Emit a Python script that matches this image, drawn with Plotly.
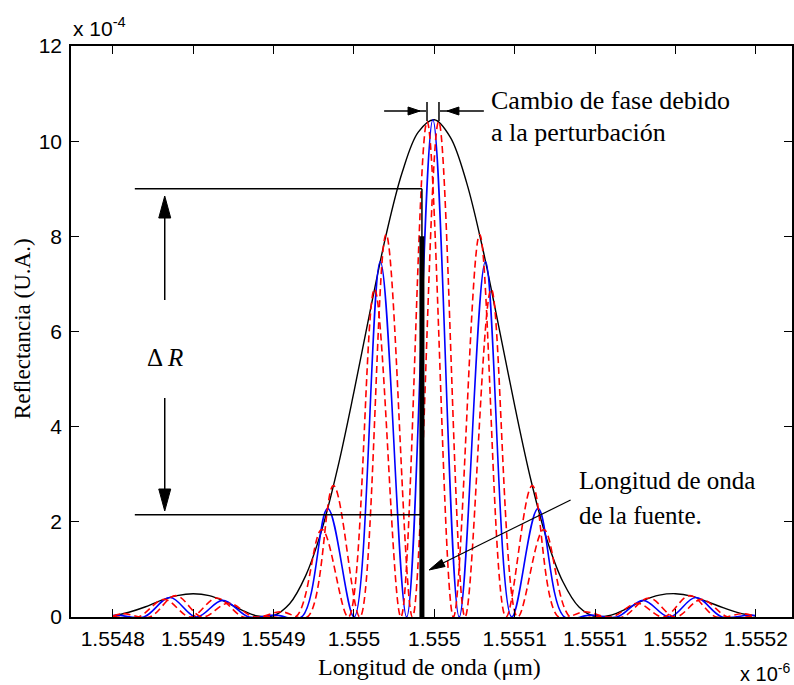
import plotly.graph_objects as go

# ---------------- data ----------------
# wavelength in units of 1e-6 m, reflectance in units of 1e-4

# spectral envelope of a single grating
envelope_wl = [1.55480, 1.55481, 1.55482, 1.55483, 1.55484, 1.55485, 1.55486, 1.55487,
               1.55488, 1.55489, 1.55490, 1.55491, 1.55492, 1.55493, 1.55494, 1.55495,
               1.55496, 1.55497, 1.55498, 1.55499, 1.55500, 1.55501, 1.55502, 1.55503,
               1.55504, 1.55505, 1.55506, 1.55507, 1.55508, 1.55509, 1.55510, 1.55511,
               1.55512, 1.55513, 1.55514, 1.55515, 1.55516, 1.55517, 1.55518, 1.55519,
               1.55520]
envelope_R = [0.02, 0.10, 0.21, 0.35, 0.45, 0.49, 0.45, 0.32, 0.15, 0.02, 0.03, 0.28,
              0.87, 1.83, 3.15, 4.73, 6.42, 8.03, 9.34, 10.19, 10.45, 10.08, 9.14, 7.76,
              6.12, 4.44, 2.89, 1.63, 0.74, 0.21, 0.01, 0.04, 0.18, 0.35, 0.46, 0.49,
              0.44, 0.32, 0.19, 0.08, 0.02]

# interference fringes, unperturbed cavity (fringe zeros and maxima)
fringe_wl = [1.5548000, 1.5548029, 1.5548193, 1.5548356, 1.5548520, 1.5548683, 1.5548847,
             1.5549010, 1.5549174, 1.5549337, 1.5549501, 1.5549664, 1.5549828, 1.5549991,
             1.5550155, 1.5550318, 1.5550482, 1.5550645, 1.5550809, 1.5550972, 1.5551136,
             1.5551299, 1.5551463, 1.5551626, 1.5551790, 1.5551953, 1.5552000]
fringe_R = [0.03, 0.04, 0.0, 0.41, 0.0, 0.35, 0.0, 0.04, 0.0, 2.28, 0.0, 7.47, 0.0, 10.45,
            0.0, 7.47, 0.0, 2.28, 0.0, 0.04, 0.0, 0.35, 0.0, 0.41, 0.0, 0.04, 0.03]

# fringes shifted by the perturbation (towards shorter wavelength)
shift_a_wl = [1.5548000, 1.5548157, 1.5548320, 1.5548484, 1.5548647, 1.5548811, 1.5548974,
              1.5549138, 1.5549301, 1.5549465, 1.5549628, 1.5549792, 1.5549955, 1.5550119,
              1.5550282, 1.5550446, 1.5550609, 1.5550773, 1.5550936, 1.5551100, 1.5551263,
              1.5551427, 1.5551590, 1.5551754, 1.5551917, 1.5552000]
shift_a_R = [0.02, 0.0, 0.37, 0.0, 0.40, 0.0, 0.01, 0.0, 1.84, 0.0, 6.89, 0.0, 10.41, 0.0,
             8.04, 0.0, 2.76, 0.0, 0.11, 0.0, 0.29, 0.0, 0.45, 0.0, 0.07, 0.01]

# fringes shifted by the perturbation (towards longer wavelength)
shift_b_wl = [1.5548000, 1.5548065, 1.5548229, 1.5548392, 1.5548556, 1.5548719, 1.5548883,
              1.5549046, 1.5549210, 1.5549373, 1.5549537, 1.5549700, 1.5549864, 1.5550027,
              1.5550191, 1.5550354, 1.5550518, 1.5550681, 1.5550845, 1.5551008, 1.5551172,
              1.5551335, 1.5551499, 1.5551662, 1.5551826, 1.5551989, 1.5552000]
shift_b_R = [0.02, 0.07, 0.0, 0.45, 0.0, 0.29, 0.0, 0.11, 0.0, 2.76, 0.0, 8.04, 0.0, 10.41,
             0.0, 6.89, 0.0, 1.84, 0.0, 0.01, 0.0, 0.40, 0.0, 0.37, 0.0, 0.02, 0.02]

# source wavelength and the reflectance swing it sees
source_wl = 1.5549923
source_R = 8.0
delta_R_high = 9.0
delta_R_low = 2.15

x_tick_vals = [1.55480, 1.55485, 1.55490, 1.55495, 1.55500, 1.55505, 1.55510, 1.55515, 1.55520]
x_tick_text = ["1.5548", "1.5549", "1.5549", "1.555", "1.555", "1.5551", "1.5551", "1.5552", "1.5552"]
y_tick_vals = [0, 2, 4, 6, 8, 10, 12]
y_tick_text = ["0", "2", "4", "6", "8", "10", "12"]

# ---------------- geometry ----------------
W, H = 794, 685
L, R, T, B = 71, 794, 46, 617          # plot area in page pixels
X0, X1 = 1.5547740, 1.5552225           # wavelength range
Y0, Y1 = 0.0, 12.0


def X(px):
    return X0 + (px - L) / (R - L) * (X1 - X0)


def Y(py):
    return Y0 + (B - py) / (B - T) * (Y1 - Y0)


def head(tip, tail, length=20.0, half=5.0):
    """Filled arrow head (SVG path in data units) given page-pixel tip and tail."""
    dx, dy = tip[0] - tail[0], tip[1] - tail[1]
    n = (dx * dx + dy * dy) ** 0.5
    ux, uy = dx / n, dy / n
    bx, by = tip[0] - ux * length, tip[1] - uy * length
    px, py = -uy, ux
    pts = [tip, (bx + px * half, by + py * half), (bx - px * half, by - py * half)]
    return "M" + " L".join(f"{X(a):.9f},{Y(b):.5f}" for a, b in pts) + " Z"


SERIF = "Liberation Serif, Times New Roman, serif"
SANS = "Liberation Sans, Arial, Helvetica, sans-serif"

fig = go.Figure()

fig.add_trace(go.Scatter(x=envelope_wl, y=envelope_R, mode="lines",
                         line=dict(color="black", width=1.4, shape="spline"),
                         hoverinfo="skip"))
fig.add_trace(go.Scatter(x=fringe_wl, y=fringe_R, mode="lines",
                         line=dict(color="#0000ff", width=1.6, shape="spline"),
                         hoverinfo="skip"))
for wl, rr in ((shift_a_wl, shift_a_R), (shift_b_wl, shift_b_R)):
    fig.add_trace(go.Scatter(x=wl, y=rr, mode="lines",
                             line=dict(color="#ff0000", width=1.6, shape="spline", dash="7px,4px"),
                             hoverinfo="skip"))
# source line
fig.add_trace(go.Scatter(x=[source_wl, source_wl], y=[0, source_R], mode="lines",
                         line=dict(color="black", width=5), hoverinfo="skip"))

shapes = []
line_style = dict(color="black", width=1.5)
# Delta R bracket
x_left = X(135)
shapes += [
    dict(type="line", xref="x", yref="y", x0=x_left, x1=source_wl, y0=delta_R_high, y1=delta_R_high, line=line_style),
    dict(type="line", xref="x", yref="y", x0=x_left, x1=source_wl, y0=delta_R_low, y1=delta_R_low, line=line_style),
    dict(type="line", xref="x", yref="y", x0=source_wl, x1=source_wl, y0=0, y1=delta_R_high, line=line_style),
    dict(type="line", xref="x", yref="y", x0=X(165), x1=X(165), y0=Y(300), y1=Y(212), line=line_style),
    dict(type="line", xref="x", yref="y", x0=X(165), x1=X(165), y0=Y(398), y1=Y(494), line=line_style),
    dict(type="path", xref="x", yref="y", path=head((165, 196), (165, 300), 22, 6),
         fillcolor="black", line=dict(color="black", width=1)),
    dict(type="path", xref="x", yref="y", path=head((165, 511), (165, 398), 22, 6),
         fillcolor="black", line=dict(color="black", width=1)),
]
# phase-change marker
shapes += [
    dict(type="line", xref="x", yref="y", x0=X(428), x1=X(428), y0=Y(102), y1=Y(121), line=line_style),
    dict(type="line", xref="x", yref="y", x0=X(440), x1=X(440), y0=Y(102), y1=Y(121), line=line_style),
    dict(type="line", xref="x", yref="y", x0=X(385), x1=X(427), y0=Y(111), y1=Y(111), line=line_style),
    dict(type="line", xref="x", yref="y", x0=X(441), x1=X(485), y0=Y(111), y1=Y(111), line=line_style),
    dict(type="path", xref="x", yref="y", path=head((421, 111), (385, 111), 12, 4),
         fillcolor="black", line=dict(color="black", width=1)),
    dict(type="path", xref="x", yref="y", path=head((448, 111), (485, 111), 12, 4),
         fillcolor="black", line=dict(color="black", width=1)),
]
# pointer to the source wavelength
shapes += [
    dict(type="line", xref="x", yref="y", x0=X(572), x1=X(440), y0=Y(500), y1=Y(565),
         line=dict(color="black", width=1.2)),
    dict(type="path", xref="x", yref="y", path=head((430, 570), (572, 500), 16, 4),
         fillcolor="black", line=dict(color="black", width=1)),
]

ann = []


def text(px, py, s, size=25, font=SERIF, xanchor="left", angle=0):
    ann.append(dict(x=(px - L) / (R - L), y=(B - py) / (B - T), xref="paper", yref="paper",
                    text=s, showarrow=False, xanchor=xanchor, yanchor="middle", textangle=angle,
                    font=dict(family=font, size=size, color="black")))


text(490, 100, "Cambio de fase debido", size=26)
text(490, 132, "a la perturbación", size=26)
text(578, 481, "Longitud de onda")
text(578, 515, "de la fuente.")
text(165, 358, "Δ <i>R</i>", xanchor="center")
text(430, 667, "Longitud de onda (μm)", size=24, xanchor="center")
text(22, 329, "Reflectancia (U.A.)", size=23, xanchor="center", angle=-90)
text(71, 27, "x 10<sup>-4</sup>", size=21, font=SANS)
text(740, 672, "x 10<sup>-6</sup>", size=20, font=SANS)

fig.update_layout(
    width=W, height=H,
    margin=dict(l=L, r=W - R, t=T, b=H - B, pad=0),
    paper_bgcolor="white", plot_bgcolor="white",
    showlegend=False,
    shapes=shapes, annotations=ann,
    xaxis=dict(range=[X0, X1], tickmode="array", tickvals=x_tick_vals, ticktext=x_tick_text,
               ticks="inside", ticklen=8, tickwidth=1.3, tickcolor="black",
               showline=True, linecolor="black", linewidth=1.5, mirror="ticks",
               showgrid=False, zeroline=False, ticklabelstandoff=2,
               tickfont=dict(family=SANS, size=21, color="black")),
    yaxis=dict(range=[Y0, Y1], tickmode="array", tickvals=y_tick_vals, ticktext=y_tick_text,
               ticks="inside", ticklen=8, tickwidth=1.3, tickcolor="black",
               showline=True, linecolor="black", linewidth=1.5, mirror="ticks",
               showgrid=False, zeroline=False, ticklabelstandoff=3,
               tickfont=dict(family=SANS, size=21, color="black")),
)

fig.write_html("out.html")
